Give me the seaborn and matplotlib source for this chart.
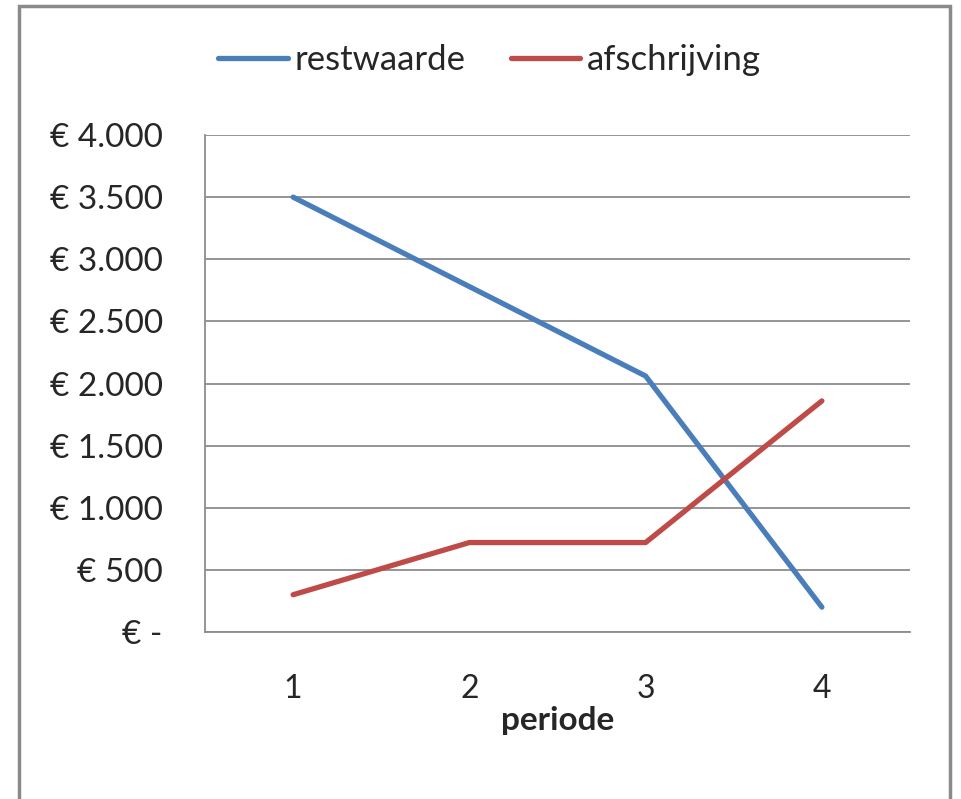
import matplotlib
matplotlib.use("Agg")
import matplotlib.pyplot as plt
import numpy as np
import pandas as pd
import seaborn as sns

periode = [1, 2, 3, 4]
restwaarde = [3500, 2780, 2060, 200]
afschrijving = [300, 720, 720, 1860]
y_ticks = [0, 500, 1000, 1500, 2000, 2500, 3000, 3500, 4000]

df = pd.DataFrame({
    "periode": periode * 2,
    "waarde": restwaarde + afschrijving,
    "reeks": ["restwaarde"] * 4 + ["afschrijving"] * 4,
})

sns.set_style("white")
plt.rcParams['font.family'] = ['Lato', 'DejaVu Sans']

fig = plt.figure(figsize=(9.61, 7.99), dpi=100)
ax = fig.add_axes([205/961, 1-632/799, (910-205)/961, (632-135)/799])

grey = "#8c8c8c"
kleuren = {"restwaarde": "#4a7ebb", "afschrijving": "#be4b48"}
sns.lineplot(data=df, x="periode", y="waarde", hue="reeks", palette=kleuren,
             linewidth=3.8, ax=ax, solid_capstyle="round", zorder=3)

ax.set_xlim(0.5, 4.5)
ax.set_ylim(0, 4000)
ax.set_yticks(y_ticks)
def euro(v):
    if v == 0:
        return "€ -"
    return "€ " + f"{int(v):,}".replace(",", ".")
ax.set_yticklabels([euro(v) for v in y_ticks], fontsize=24)
ax.yaxis.grid(True, color=grey, linewidth=1.3)
ax.set_xticks(periode)
ax.set_xticklabels([str(p) for p in periode], fontsize=23)
ax.set_xticks(np.arange(0.5, 4.6, 1), minor=True)
ax.tick_params(axis="x", which="major", length=0, pad=30)
ax.tick_params(axis="x", which="minor", length=9, color=grey, width=1.3)
ax.tick_params(axis="y", length=8.5, color=grey, width=1.3, pad=22)

for s in ["top", "right"]:
    ax.spines[s].set_visible(False)
for s in ["left", "bottom"]:
    ax.spines[s].set_color(grey)
    ax.spines[s].set_linewidth(1.3)

ax.set_ylabel("")
ax.set_xlabel("periode", fontsize=24, fontweight="bold", labelpad=2)

ax.legend(loc="center", bbox_to_anchor=(0.404, 1.151), ncol=2, frameon=False,
          fontsize=25, handlelength=2.0, handletextpad=0.2, columnspacing=1.3,
          borderaxespad=0)

# chart border
fig.patches.append(plt.Rectangle((19/961, -0.05), (950-19)/961, 1.05 - 5.5/799,
                                 transform=fig.transFigure, fill=False,
                                 edgecolor="#8a8a8a", linewidth=2.5))

fig.savefig("out.png", dpi=100)
